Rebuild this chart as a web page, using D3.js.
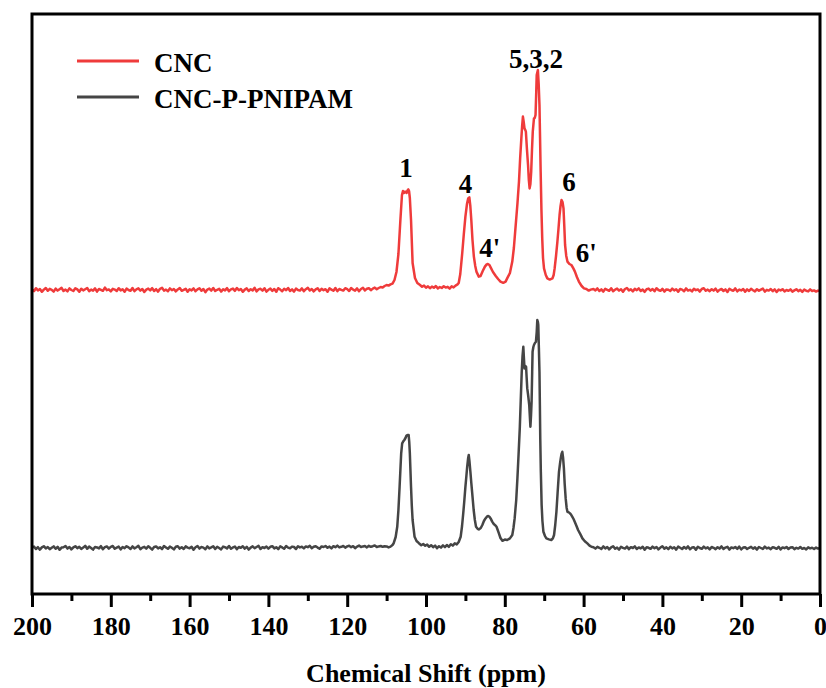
<!DOCTYPE html>
<html>
<head>
<meta charset="utf-8">
<script src="https://cdn.jsdelivr.net/npm/d3@7/dist/d3.min.js"></script>
<style>
  html, body { margin: 0; padding: 0; background: #fff; }
  svg { display: block; }
  text { font-family: "Liberation Serif", "Times New Roman", serif; font-weight: bold; fill: #000; }
</style>
</head>
<body>
<svg id="chart" width="826" height="688"></svg>
<script>
// ---------------- DATA ----------------
const seriesNames = ["CNC", "CNC-P-PNIPAM"];
const seriesColors = ["#ef3b3b", "#454545"];
const majorTicks = [200, 180, 160, 140, 120, 100, 80, 60, 40, 20, 0];
const minorTicks = [190, 170, 150, 130, 110, 90, 70, 50, 30, 10];
const xTitle = "Chemical Shift (ppm)";

// vertical stacking offsets (a.u.)
const cncOffset = 152;
const pnipamOffset = 23;

// baseline noise, one value per 0.5 ppm: 200 ... 110.5
const cncBaseLeft = [
 0.3,-0.6,0.9,-0.2,0.5,-0.9,0.2,1.0,-0.4,0.6,0.1,-0.8,0.7,-0.3,0.4,1.1,-0.5,0.2,-0.7,0.8,
 0.0,-0.5,0.9,0.3,-0.9,0.6,-0.2,0.4,1.0,-0.6,0.2,-0.3,0.8,-0.8,0.5,0.1,-0.4,1.2,-0.1,0.3,
 -0.7,0.6,0.2,-0.5,0.9,-0.2,0.4,-0.9,0.7,0.0,-0.4,1.0,-0.6,0.3,0.8,-0.3,0.5,-1.0,0.2,0.7,
 -0.2,0.9,-0.5,0.4,-0.8,0.6,1.1,-0.3,0.2,-0.6,0.8,-0.1,0.5,-0.7,0.3,1.0,-0.4,0.1,0.6,-0.9,
 0.4,-0.2,0.8,-0.6,0.3,0.9,-0.4,0.5,-1.1,0.2,0.7,-0.3,1.0,-0.5,0.1,0.6,-0.8,0.4,-0.2,0.9,
 -0.6,0.3,0.7,-0.4,1.0,-0.1,0.5,-0.9,0.2,0.8,-0.5,0.4,-0.2,1.1,-0.7,0.3,0.6,-0.3,0.9,-0.8,
 0.1,0.7,-0.4,0.5,-0.9,0.9,0.2,-0.6,0.6,-0.1,1.0,-0.5,0.3,-0.8,0.7,0.0,-0.3,0.8,-0.6,0.4,
 1.1,-0.2,0.5,-0.7,0.3,0.9,-0.5,0.6,-0.1,0.4,-0.9,0.8,0.2,-0.4,1.0,-0.6,0.5,0.1,-0.3,0.9,
 0.4,-0.5,1.0,0.2,-0.3,0.8,-0.6,0.5,1.1,-0.2,0.6,0.9,-0.1,0.7,1.2,0.4,1.0,1.5,1.3,2.0];
// peak region [ppm, intensity]: 110 ... 58
const cncPeaks = [[110,2.5],[109.5,2.2],[109,2.8],[108.5,3.2],[108,5],[107.5,9],[107,18],[106.5,35],[106.1,47.5],[105.85,49.5],[105.6,48.5],[105.3,49.2],[104.9,48.5],[104.7,49.8],[104.5,50.3],[104.3,49.5],[104.1,46],[103.8,35],[103.4,13.5],[102.8,6],[102.2,3.5],[101.5,2.5],[101,1.6],[100.5,2.2],[100,1.2],[99.5,1.8],[99,0.9],[98.5,1.7],[98,1.1],[97.5,2.0],[97,0.8],[96.5,1.5],[96,1.0],[95.5,1.9],[95,1.2],[94.5,1.6],[94,0.7],[93.5,1.8],[93,1.3],[92.5,2.2],[92,2.8],[91.7,3.5],[91.3,8],[90.8,18.5],[90.4,28],[90,36.7],[89.6,43],[89.3,45.8],[89,46.3],[88.75,42],[88.5,35],[88.2,25],[87.85,16.7],[87.5,12],[87.2,9.2],[86.6,6.7],[86.15,7],[85.6,9.5],[85.05,11.7],[84.6,12.8],[84.3,13],[83.9,12.5],[83.6,11.3],[83,9],[82.3,7],[81.7,5.5],[81.1,4.2],[80.4,3.6],[79.8,4.2],[79.4,5.8],[78.7,8.5],[78.1,14.2],[77.7,21],[77.3,30.8],[76.8,43],[76.4,54.2],[76.1,66],[75.8,75.8],[75.6,82],[75.4,86.7],[75.2,84],[75.0,80.8],[74.8,80],[74.65,79.2],[74.4,71],[74.1,62.5],[73.9,55],[73.7,50.8],[73.5,53],[73.3,59.2],[73.1,70],[72.9,79.2],[72.6,85.8],[72.4,86],[72.2,87.5],[72.05,97],[71.9,107.5],[71.6,110],[71.4,103],[71.2,92.5],[71.05,76],[70.9,59.2],[70.7,40],[70.5,25.8],[70.3,16],[70.05,10.8],[69.6,7.5],[69.2,5.8],[68.6,5.2],[67.9,5.8],[67.6,7.5],[67.35,10.8],[67,17],[66.65,24.2],[66.4,30],[66.1,37.5],[65.85,42],[65.6,45],[65.35,44],[65.1,40.8],[64.9,32],[64.7,22.5],[64.4,17],[64.1,14.2],[63.6,13],[63.1,12.5],[62.6,10.8],[62.2,9.2],[61.7,6.5],[61.2,4.2],[60.5,2],[59.9,0.8],[59.3,0.5],[58.7,-0.3],[58.2,0.2]];
// baseline noise, one value per 0.5 ppm: 57.5 ... 0
const cncBaseRight = [
 0.5,-0.2,0.8,-0.5,0.3,-0.8,0.6,0.1,-0.4,0.9,-0.6,0.2,0.7,-0.3,0.4,-0.9,0.5,1.0,-0.2,0.3,
 -0.7,0.6,-0.1,0.8,-0.5,0.2,-0.9,0.4,0.7,-0.3,0.5,-0.6,0.9,0.0,-0.4,0.6,-0.8,0.3,0.1,-0.5,
 0.7,-0.2,0.4,-0.9,0.5,0.2,-0.6,0.8,-0.3,0.1,-0.7,0.6,-0.1,0.3,-0.8,0.5,0.9,-0.4,0.2,-0.6,
 0.4,-0.3,0.7,-0.8,0.1,0.5,-0.5,0.3,-1.0,0.6,0.0,-0.4,0.8,-0.7,0.2,-0.2,0.5,-0.9,0.3,-0.5,
 0.6,-0.1,-0.7,0.4,-0.4,0.2,0.7,-0.8,0.1,-0.3,0.5,-0.6,0.3,-1.0,0.2,-0.2,0.4,-0.7,0.0,-0.4,
 0.3,-0.8,-0.2,0.4,-0.6,0.1,-0.9,0.2,-0.4,-0.7,0.3,-0.5,-0.2,-0.8,-0.3,-0.6];

const pnipamBaseLeft = [
 0.2,0.7,-0.5,0.4,-0.8,0.3,0.9,-0.2,0.5,-0.6,0.1,0.8,-0.4,0.6,-0.9,0.2,0.4,1.0,-0.3,0.5,
 -0.7,0.3,0.9,-0.1,0.6,-0.5,0.2,1.1,-0.4,0.7,0.0,-0.8,0.5,0.3,-0.2,0.9,-0.6,0.4,0.8,-0.3,
 0.6,1.0,-0.4,0.2,0.7,-0.7,0.5,-0.1,0.9,0.3,-0.5,0.8,-0.2,0.4,1.1,-0.6,0.2,0.6,-0.3,0.9,
 0.1,-0.8,0.5,0.8,-0.2,0.4,-0.6,1.0,0.3,-0.4,0.7,0.1,-0.7,0.6,0.9,-0.3,0.4,-0.5,0.8,0.2,
 -0.1,0.6,-0.9,0.4,1.0,-0.3,0.5,0.2,-0.6,0.8,-0.2,0.3,0.9,-0.5,0.6,0.0,-0.7,0.7,0.4,-0.2,
 1.0,-0.4,0.3,0.7,-0.6,0.5,0.1,0.9,-0.3,0.6,-0.8,0.2,0.8,-0.1,0.5,1.1,-0.5,0.4,0.0,0.7,
 -0.3,0.6,0.9,-0.2,0.4,-0.6,0.8,0.3,-0.4,1.0,0.2,-0.1,0.7,0.5,-0.5,0.9,0.3,0.6,-0.2,0.8,
 0.4,1.1,-0.1,0.6,0.9,0.2,-0.4,0.8,0.5,1.0,0.1,0.7,-0.2,0.9,0.4,1.2,0.3,0.6,1.0,0.2,
 0.8,1.1,0.4,0.9,-0.1,0.7,1.2,0.5,0.8,1.0,0.3,1.1,0.6,0.9,1.3,0.5,0.8,1.0,0.6,0.9];
const pnipamPeaks = [[110,0.8],[109.5,0.3],[109,0.7],[108.5,1.5],[108.2,2.4],[107.7,5.5],[107.3,10.6],[107,19],[106.7,30.6],[106.5,39],[106.3,47.3],[106.05,52.3],[105.8,53.2],[105.5,54],[105.2,55],[105.0,56],[104.8,56.4],[104.6,56.5],[104.4,56.5],[104.25,53],[104.1,47.3],[103.8,30.6],[103.6,21],[103.4,14],[102.9,5.6],[102.4,3.5],[101.8,2.4],[101.2,1.4],[100.7,2],[100.2,1.1],[99.7,1.7],[99.2,0.6],[98.7,1.4],[98.2,0.4],[97.7,1.2],[97.2,-0.1],[96.7,0.9],[96.2,0.2],[95.7,1.3],[95.2,0.4],[94.7,1.5],[94.2,0.6],[93.7,1.9],[93.2,1.2],[92.7,2.3],[92.2,1.8],[91.7,3],[91.2,5.6],[90.85,11],[90.55,17.3],[90.3,23],[90.0,30.6],[89.75,36],[89.55,40.6],[89.3,45],[89.15,46.5],[88.95,43],[88.7,37.3],[88.5,32.5],[88.3,28.1],[87.9,19],[87.6,14],[87.3,10.6],[86.9,9.6],[86.6,9.3],[86.1,10],[85.7,11.5],[85.3,13.5],[84.9,14.8],[84.5,15.8],[84.2,16],[83.9,15.6],[83.6,14.8],[83.2,13.2],[82.8,12],[82.4,11.3],[82.1,10.6],[81.8,9],[81.5,7.3],[81.1,5],[80.6,3.6],[80,4.2],[79.4,4],[78.7,4.8],[78.1,6.5],[77.8,10],[77.5,14.8],[77.1,24],[76.8,34.8],[76.5,47],[76.2,59.8],[75.95,74],[75.7,88.1],[75.5,96],[75.3,100.6],[75.15,95],[75.0,89.8],[74.8,91],[74.6,90.6],[74.45,85],[74.3,79.8],[74.05,76],[73.8,71.5],[73.65,66],[73.5,60.6],[73.35,66],[73.2,73.1],[73.05,88],[72.95,98.1],[72.75,100.5],[72.6,101.5],[72.35,102.5],[72.1,103.1],[71.9,108],[71.75,114],[71.6,113],[71.5,111.5],[71.35,100],[71.2,88.1],[71.1,72],[71.0,54.8],[70.85,38],[70.65,21.5],[70.45,13.5],[70.2,8.1],[69.8,6],[69.45,4.8],[68.8,4.3],[68.2,4],[67.8,4.8],[67.5,6.5],[67.2,11.5],[66.9,18.1],[66.6,27.5],[66.25,38.1],[66.0,42],[65.8,44.8],[65.6,47],[65.4,48.1],[65.2,45],[65.0,39.8],[64.8,32],[64.55,24.8],[64.3,20],[64.1,18.1],[63.75,17.8],[63.45,17.3],[63.15,16.6],[62.85,15.6],[62.55,14.5],[62.25,13.1],[61.8,11],[61.4,9],[60.8,6.8],[60.3,4.8],[59.7,3.4],[59.05,2.3],[58.5,1.2],[58,0.6]];
const pnipamBaseRight = [
 0.4,-0.3,0.6,0.1,-0.5,0.8,-0.2,0.5,-0.7,0.3,0.9,-0.4,0.2,-0.8,0.6,0.1,-0.3,0.7,-0.6,0.4,
 0.0,0.8,-0.5,0.3,-0.2,0.6,-0.9,0.4,0.1,-0.4,0.7,-0.1,0.5,-0.7,0.2,0.9,-0.3,0.3,-0.6,0.6,
 -0.2,0.4,-0.8,0.7,0.1,-0.5,0.5,-0.3,0.8,-0.6,0.2,0.4,-0.9,0.6,0.0,-0.4,0.7,-0.2,0.3,-0.7,
 0.5,0.1,-0.6,0.4,-0.3,0.8,-0.5,0.2,0.6,-0.8,0.3,-0.1,0.5,-0.4,0.7,-0.7,0.2,0.4,-0.5,0.1,
 0.6,-0.3,0.3,-0.8,0.5,0.0,-0.5,0.7,-0.2,0.2,-0.6,0.4,0.1,-0.4,0.6,-0.7,0.3,-0.1,0.5,-0.5,
 0.2,0.4,-0.6,0.1,-0.3,0.5,-0.4,0.0,-0.7,0.3,-0.2,0.1,-0.5,0.2,-0.3,-0.1];

// peak assignment labels on the CNC trace
const peakLabels = ["1", "4", "4'", "5,3,2", "6", "6'"];
const peakLabelShift = [105.1, 90.0, 83.8, 72.1, 63.7, 59.3];
const peakLabelLevel = [208.5, 200.5, 168.3, 263, 201.5, 166];

// ---------------- CHART ----------------
const plot = { left: 32, right: 820, top: 14, bottom: 594 };
const svg = d3.select("#chart");

const x = d3.scaleLinear().domain([200, 0]).range([plot.left, plot.right]);
const y = d3.scaleLinear().domain([0, 290]).range([plot.bottom, plot.top]);

function assemble(left, peaks, right, offset) {
  const pts = [];
  left.forEach((v, i) => pts.push([200 - i * 0.5, v + offset]));
  peaks.forEach(p => pts.push([p[0], p[1] + offset]));
  right.forEach((v, i) => pts.push([57.5 - i * 0.5, v + offset]));
  return pts;
}
const series = [
  assemble(cncBaseLeft, cncPeaks, cncBaseRight, cncOffset),
  assemble(pnipamBaseLeft, pnipamPeaks, pnipamBaseRight, pnipamOffset)
];

svg.append("defs").append("clipPath").attr("id", "clip")
  .append("rect").attr("x", plot.left).attr("y", plot.top)
  .attr("width", plot.right - plot.left).attr("height", plot.bottom - plot.top);

const line = d3.line().x(d => x(d[0])).y(d => y(d[1])).curve(d3.curveLinear);

const g = svg.append("g").attr("clip-path", "url(#clip)");
series.forEach((s, i) => {
  g.append("path").datum(s)
    .attr("d", line)
    .attr("fill", "none")
    .attr("stroke", seriesColors[i])
    .attr("stroke-width", 2.5)
    .attr("stroke-linejoin", "round");
});

// frame
svg.append("rect")
  .attr("x", plot.left).attr("y", plot.top)
  .attr("width", plot.right - plot.left).attr("height", plot.bottom - plot.top)
  .attr("fill", "none").attr("stroke", "#000").attr("stroke-width", 3);

// x axis
const xAxis = svg.append("g").attr("transform", `translate(0,${plot.bottom})`)
  .call(d3.axisBottom(x).tickValues(majorTicks).tickSize(13).tickFormat(d3.format("d")));
xAxis.select(".domain").remove();
xAxis.selectAll(".tick line").attr("stroke", "#000").attr("stroke-width", 3);
xAxis.selectAll(".tick text")
  .attr("y", 41).attr("dy", 0)
  .style("font-family", '"Liberation Serif", "Times New Roman", serif')
  .style("font-weight", "bold").style("font-size", "26px").attr("fill", "#000");

const xMinor = svg.append("g").attr("transform", `translate(0,${plot.bottom})`)
  .call(d3.axisBottom(x).tickValues(minorTicks).tickSize(7).tickFormat(""));
xMinor.select(".domain").remove();
xMinor.selectAll(".tick line").attr("stroke", "#000").attr("stroke-width", 3);

// axis title
svg.append("text")
  .attr("x", (plot.left + plot.right) / 2).attr("y", 682)
  .attr("text-anchor", "middle").style("font-size", "26px")
  .text(xTitle);

// legend
const legendY = [61, 97];
seriesNames.forEach((name, i) => {
  svg.append("line")
    .attr("x1", 77).attr("x2", 139)
    .attr("y1", legendY[i]).attr("y2", legendY[i])
    .attr("stroke", seriesColors[i]).attr("stroke-width", 3);
  svg.append("text")
    .attr("x", 154).attr("y", legendY[i] + 11)
    .style("font-size", "27px")
    .text(name);
});

// peak labels
peakLabels.forEach((t, i) => {
  svg.append("text")
    .attr("x", x(peakLabelShift[i])).attr("y", y(peakLabelLevel[i]))
    .attr("text-anchor", "middle").style("font-size", "27px")
    .text(t);
});
</script>
</body>
</html>
